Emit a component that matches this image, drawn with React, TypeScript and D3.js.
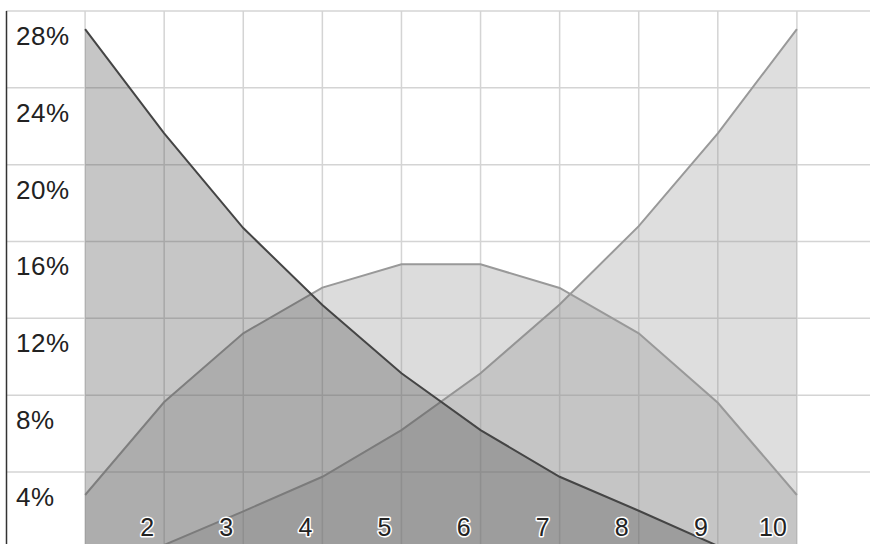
import React from "react";
import * as d3 from "d3";

const xValues = [1, 2, 3, 4, 5, 6, 7, 8, 9, 10];
const decreasing = [27.06, 21.63, 16.7, 12.69, 9.14, 6.18, 3.75, 1.98, 0.15, 0.0];
const middle = [2.8, 7.64, 11.22, 13.6, 14.81, 14.81, 13.58, 11.22, 7.6, 2.8];
const increasing = [0.0, 0.2, 1.95, 3.75, 6.18, 9.14, 12.72, 16.8, 21.63, 27.06];
const yTicks = [4, 8, 12, 16, 20, 24, 28];
const xTicks = [2, 3, 4, 5, 6, 7, 8, 9, 10];

const W = 870;
const H = 544;

export default function App() {
  const x = d3.scaleLinear().domain([0, 11]).range([6, 876]);
  const y = d3.scaleLinear().domain([0, 28]).range([548.8, 11]);
  const font = "'Liberation Sans', Arial, sans-serif";

  const area = d3
    .area<number>()
    .x((_, i) => x(xValues[i]))
    .y0(y(0))
    .y1((d) => y(d));
  const line = d3
    .line<number>()
    .x((_, i) => x(xValues[i]))
    .y((d) => y(d));

  const series = [
    { data: increasing, color: "#919191", stroke: "#999999" },
    { data: middle, color: "#8c8c8c", stroke: "#999999" },
    { data: decreasing, color: "#414141", stroke: "#454545" },
  ];
  const gridX = d3.range(1, 12);

  return (
    <div style={{ position: "fixed", left: 0, top: 0 }}>
      <svg width={W} height={H} style={{ display: "block", background: "#fff" }}>
        <g>
          {yTicks.map((t) => (
            <line key={"h" + t} x1={x(0)} x2={W} y1={y(t)} y2={y(t)} stroke="#d4d4d4" strokeWidth={1.5} />
          ))}
          {gridX.map((t) => (
            <line key={"v" + t} x1={x(t)} x2={x(t)} y1={y(28)} y2={H} stroke="#d4d4d4" strokeWidth={1.5} />
          ))}
        </g>
        {series.map((s, i) => (
          <g key={i}>
            <path d={area(s.data) || ""} fill={s.color} fillOpacity={0.3} />
            <path d={line(s.data) || ""} fill="none" stroke={s.stroke} strokeWidth={2} />
          </g>
        ))}
        <line x1={x(0) + 0.5} x2={x(0) + 0.5} y1={y(28)} y2={H} stroke="#333" strokeWidth={1.5} />
        {yTicks.map((t) => (
          <text key={"yl" + t} x={16} y={y(t) + 34} fontFamily={font} fontSize={26} letterSpacing={0.5} fill="#222">
            {t + "%"}
          </text>
        ))}
        {xTicks.map((t) => (
          <text
            key={"xl" + t}
            x={x(t) - 10}
            y={535.5}
            textAnchor="end"
            fontFamily={font}
            fontSize={25}
            fill="#222"
            stroke="#fff"
            strokeWidth={3}
            strokeLinejoin="round"
            paintOrder="stroke"
          >
            {t}
          </text>
        ))}
      </svg>
    </div>
  );
}
